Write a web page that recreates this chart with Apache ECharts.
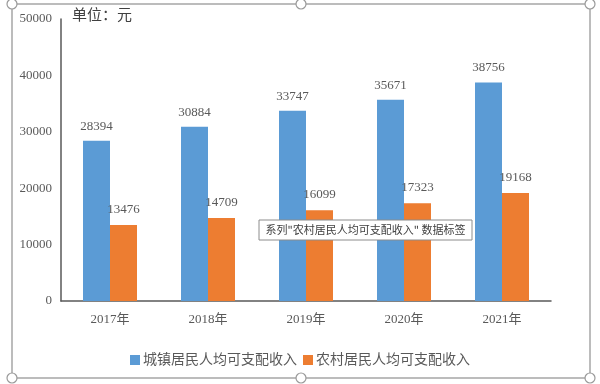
<!DOCTYPE html>
<html>
<head>
<meta charset="utf-8">
<script src="https://cdn.jsdelivr.net/npm/echarts@6/dist/echarts.min.js"></script>
<style>html,body{margin:0;padding:0;background:#fff;}#c{width:600px;height:384px;}</style>
</head>
<body>
<div id="c"></div>
<script>
var categories = ['2017年', '2018年', '2019年', '2020年', '2021年'];
var urbanName = '城镇居民人均可支配收入';
var ruralName = '农村居民人均可支配收入';
var urbanValues = [28394, 30884, 33747, 35671, 38756];
var ruralValues = [13476, 14709, 16099, 17323, 19168];
var yTicks = [0, 10000, 20000, 30000, 40000, 50000];
var unitText = '单位：元';
var calloutText = '系列"农村居民人均可支配收入" 数据标签';

var serif = '"Liberation Serif", "DejaVu Serif", "Noto Sans CJK SC", serif';
var chart = echarts.init(document.getElementById('c'));
var txt = '#595959';

function handle(x, y) {
  return { type: 'circle', z: 100, shape: { cx: x, cy: y, r: 5 }, style: { fill: '#fff', stroke: '#9a9a9a', lineWidth: 1.2 } };
}

chart.setOption({
  animation: false,
  backgroundColor: '#fff',
  grid: { left: 61, right: 49, top: 19, bottom: 83, containLabel: false },
  xAxis: {
    type: 'category',
    data: categories,
    axisLine: { show: true, lineStyle: { color: '#595959', width: 1.5 } },
    axisTick: { show: false },
    axisLabel: { color: txt, fontFamily: serif, fontSize: 13, margin: 12 }
  },
  yAxis: {
    type: 'value',
    min: yTicks[0],
    max: yTicks[yTicks.length - 1],
    interval: yTicks[1] - yTicks[0],
    axisLine: { show: true, lineStyle: { color: '#595959', width: 1.5 } },
    axisTick: { show: false },
    splitLine: { show: false },
    axisLabel: { color: txt, fontFamily: serif, fontSize: 13, margin: 9, formatter: function (v) { return String(v); } }
  },
  legend: {
    data: [urbanName, ruralName],
    left: 'center',
    top: 348,
    itemWidth: 10,
    itemHeight: 10,
    itemGap: 6,
    icon: 'rect',
    textStyle: { color: txt, fontFamily: serif, fontSize: 14, padding: [0, 0, 0, -2] }
  },
  series: [
    {
      name: urbanName, type: 'bar', data: urbanValues, barWidth: 27, barGap: '0%',
      itemStyle: { color: '#5B9BD5' },
      label: { show: true, position: 'top', distance: 8, color: txt, fontFamily: serif, fontSize: 13 }
    },
    {
      name: ruralName, type: 'bar', data: ruralValues, barWidth: 27, barGap: '0%',
      itemStyle: { color: '#ED7D31' },
      label: { show: true, position: 'top', distance: 9, color: txt, fontFamily: serif, fontSize: 13 }
    }
  ],
  graphic: [
    { type: 'text', left: 72, top: 7, z: 50, style: { text: unitText, fill: '#404040', font: '15px "Noto Sans CJK SC", sans-serif' } },
    { type: 'rect', z: 90, shape: { x: 259, y: 220, width: 213, height: 20 }, style: { fill: '#fff', stroke: '#8c8c8c', lineWidth: 1 } },
    { type: 'text', z: 91, x: 365.5, y: 230, style: { text: calloutText, fill: '#404040', font: '11px "Noto Sans CJK SC", sans-serif', textAlign: 'center', textVerticalAlign: 'middle' } },
    { type: 'rect', z: 95, shape: { x: 12, y: 4, width: 578, height: 374 }, style: { fill: 'none', stroke: '#a6a6a6', lineWidth: 1.5 } },
    handle(12, 4), handle(301, 4), handle(590, 4),
    handle(12, 378), handle(301, 378), handle(590, 378)
  ]
});
</script>
</body>
</html>
